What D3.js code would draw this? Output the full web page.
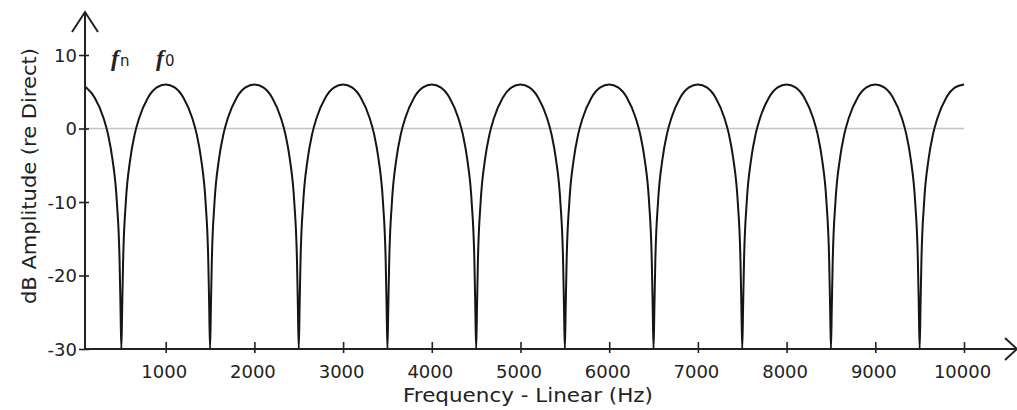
<!DOCTYPE html>
<html>
<head>
<meta charset="utf-8">
<script src="https://cdn.jsdelivr.net/npm/d3@7"></script>
<style>
  html, body { margin: 0; padding: 0; background: #fff; }
  svg { display: block; }
  text { font-family: "DejaVu Sans", Verdana, sans-serif; fill: #222; }
</style>
</head>
<body>
<svg id="chart" width="1017" height="410"></svg>
<script>
// ---- data ----
const xTicks = [1000, 2000, 3000, 4000, 5000, 6000, 7000, 8000, 9000, 10000];
const yTicks = [10, 0, -10, -20, -30];
const xTitle = "Frequency - Linear (Hz)";
const yTitle = "dB Amplitude (re Direct)";
const peakLabels = [
  { base: "f", sub: "n" },
  { base: "f", sub: "0" }
];

const freqHz = [
  90, 100, 200, 300, 350, 400, 450, 480, 490, 500,
  510, 520, 550, 600, 650, 700, 800, 900, 1000, 1100, 1200, 1300, 1350, 1400, 1450, 1480, 1490, 1500,
  1510, 1520, 1550, 1600, 1650, 1700, 1800, 1900, 2000, 2100, 2200, 2300, 2350, 2400, 2450, 2480, 2490, 2500,
  2510, 2520, 2550, 2600, 2650, 2700, 2800, 2900, 3000, 3100, 3200, 3300, 3350, 3400, 3450, 3480, 3490, 3500,
  3510, 3520, 3550, 3600, 3650, 3700, 3800, 3900, 4000, 4100, 4200, 4300, 4350, 4400, 4450, 4480, 4490, 4500,
  4510, 4520, 4550, 4600, 4650, 4700, 4800, 4900, 5000, 5100, 5200, 5300, 5350, 5400, 5450, 5480, 5490, 5500,
  5510, 5520, 5550, 5600, 5650, 5700, 5800, 5900, 6000, 6100, 6200, 6300, 6350, 6400, 6450, 6480, 6490, 6500,
  6510, 6520, 6550, 6600, 6650, 6700, 6800, 6900, 7000, 7100, 7200, 7300, 7350, 7400, 7450, 7480, 7490, 7500,
  7510, 7520, 7550, 7600, 7650, 7700, 7800, 7900, 8000, 8100, 8200, 8300, 8350, 8400, 8450, 8480, 8490, 8500,
  8510, 8520, 8550, 8600, 8650, 8700, 8800, 8900, 9000, 9100, 9200, 9300, 9350, 9400, 9450, 9480, 9490, 9500,
  9510, 9520, 9550, 9600, 9650, 9700, 9800, 9900, 10000
];
const ampDb = [
  5.7, 5.6, 4.2, 1.4, -0.8, -4.2, -10.1, -18, -24, -30,
  -24, -18, -10.1, -4.2, -0.8, 1.4, 4.2, 5.6, 6.0, 5.6, 4.2, 1.4, -0.8, -4.2, -10.1, -18, -24, -30,
  -24, -18, -10.1, -4.2, -0.8, 1.4, 4.2, 5.6, 6.0, 5.6, 4.2, 1.4, -0.8, -4.2, -10.1, -18, -24, -30,
  -24, -18, -10.1, -4.2, -0.8, 1.4, 4.2, 5.6, 6.0, 5.6, 4.2, 1.4, -0.8, -4.2, -10.1, -18, -24, -30,
  -24, -18, -10.1, -4.2, -0.8, 1.4, 4.2, 5.6, 6.0, 5.6, 4.2, 1.4, -0.8, -4.2, -10.1, -18, -24, -30,
  -24, -18, -10.1, -4.2, -0.8, 1.4, 4.2, 5.6, 6.0, 5.6, 4.2, 1.4, -0.8, -4.2, -10.1, -18, -24, -30,
  -24, -18, -10.1, -4.2, -0.8, 1.4, 4.2, 5.6, 6.0, 5.6, 4.2, 1.4, -0.8, -4.2, -10.1, -18, -24, -30,
  -24, -18, -10.1, -4.2, -0.8, 1.4, 4.2, 5.6, 6.0, 5.6, 4.2, 1.4, -0.8, -4.2, -10.1, -18, -24, -30,
  -24, -18, -10.1, -4.2, -0.8, 1.4, 4.2, 5.6, 6.0, 5.6, 4.2, 1.4, -0.8, -4.2, -10.1, -18, -24, -30,
  -24, -18, -10.1, -4.2, -0.8, 1.4, 4.2, 5.6, 6.0, 5.6, 4.2, 1.4, -0.8, -4.2, -10.1, -18, -24, -30,
  -24, -18, -10.1, -4.2, -0.8, 1.4, 4.2, 5.6, 6.0
];

// ---- layout ----
const svg = d3.select("#chart");
const x = d3.scaleLinear().domain([0, 10000]).range([77, 964]);
const y = d3.scaleLinear().domain([-30, 10]).range([349, 55]);
const axisX0 = 85;            // pixel where the y axis stands
const xEnd = 1017, yTop = 12; // arrow tips
const fmt = d => String(d);   // plain hyphen minus, as in the picture

// zero reference line
svg.append("line")
  .attr("x1", axisX0).attr("x2", x(10000))
  .attr("y1", y(0)).attr("y2", y(0))
  .attr("stroke", "#c4c4c4").attr("stroke-width", 1.6);

// response curve
const pts = freqHz.map((f, i) => [f, ampDb[i]]);
const line = d3.line()
  .x(d => x(d[0])).y(d => y(Math.max(-30, d[1])))
  .curve(d3.curveMonotoneX);
svg.append("path")
  .datum(pts)
  .attr("d", line)
  .attr("fill", "none")
  .attr("stroke", "#151515")
  .attr("stroke-width", 2);

// x axis
const gx = svg.append("g")
  .attr("transform", `translate(0,${y(-30)})`)
  .call(d3.axisBottom(x).tickValues(xTicks).tickSize(0).tickPadding(0).tickFormat(fmt));
gx.select(".domain").remove();
gx.selectAll(".tick line").attr("y1", -7).attr("y2", 4).attr("stroke", "#222").attr("stroke-width", 1.6);
gx.selectAll(".tick text")
  .attr("y", 29).attr("dy", null).attr("dx", -2)
  .style("font-size", "18px").attr("font-family", null);

// y axis
const gy = svg.append("g")
  .attr("transform", `translate(${axisX0},0)`)
  .call(d3.axisLeft(y).tickValues(yTicks).tickSize(0).tickPadding(0).tickFormat(fmt));
gy.select(".domain").remove();
gy.selectAll(".tick line").attr("x1", -6).attr("x2", 4).attr("stroke", "#222").attr("stroke-width", 1.6);
gy.selectAll(".tick text")
  .attr("x", -8).attr("dy", "0.35em")
  .style("font-size", "18px").attr("font-family", null);

// axis lines with open arrow heads
svg.append("path")
  .attr("d", `M${axisX0},${y(-30)}V${yTop}M72,32L${axisX0},${yTop}L98,32`)
  .attr("fill", "none").attr("stroke", "#222").attr("stroke-width", 2);
svg.append("path")
  .attr("d", `M${axisX0},${y(-30)}H${xEnd}M1005,338L${xEnd},${y(-30)}L1005,360`)
  .attr("fill", "none").attr("stroke", "#222").attr("stroke-width", 2);

// axis titles
svg.append("text")
  .attr("x", 528).attr("y", 402)
  .attr("text-anchor", "middle")
  .attr("textLength", 250).attr("lengthAdjust", "spacingAndGlyphs")
  .style("font-size", "19px")
  .text(xTitle);
svg.append("text")
  .attr("transform", "translate(36,176) rotate(-90)")
  .attr("text-anchor", "middle")
  .attr("textLength", 256).attr("lengthAdjust", "spacingAndGlyphs")
  .style("font-size", "19px")
  .text(yTitle);

// f_n and f_0 markers
const lab = svg.selectAll("text.peak").data(peakLabels).enter().append("text")
  .attr("class", "peak")
  .attr("x", (d, i) => i === 0 ? 111 : 156)
  .attr("y", 66);
lab.append("tspan")
  .style("font-family", "'Liberation Serif', 'Times New Roman', serif")
  .style("font-style", "italic")
  .style("font-weight", "bold")
  .style("font-size", "24px")
  .text(d => d.base);
lab.append("tspan")
  .attr("dx", 1)
  .style("font-size", "15px")
  .text(d => d.sub);
</script>
</body>
</html>
